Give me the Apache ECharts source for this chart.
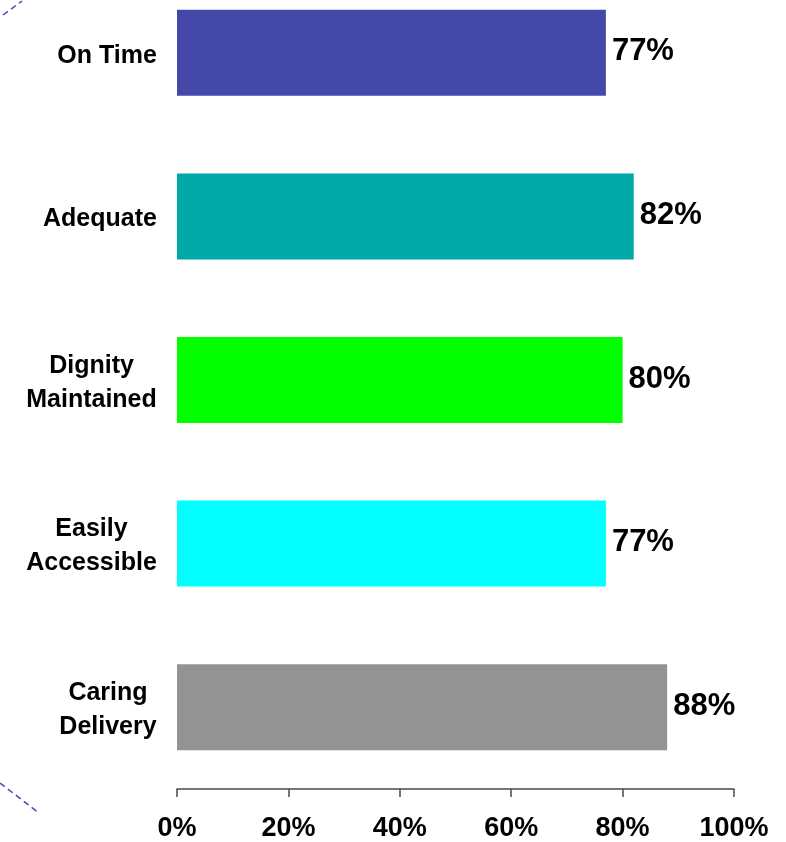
<!DOCTYPE html>
<html>
<head>
<meta charset="utf-8">
<script src="https://cdn.jsdelivr.net/npm/echarts@6/dist/echarts.min.js"></script>
<style>
html,body{margin:0;padding:0;background:#fff;overflow:hidden;}
#wrap{width:786px;height:842px;overflow:hidden;position:relative;}
#chart{position:absolute;left:0;top:-29px;width:786px;height:871px;}
</style>
</head>
<body>
<div id="wrap"><div id="chart"></div></div>
<script>
const categories = ['On Time', 'Adequate', 'Dignity\nMaintained', 'Easily\nAccessible', 'Caring\nDelivery'];
const values = [77, 82, 80, 77, 88];
const barColors = ['#4448A8', '#00A8A8', '#00FF00', '#00FFFF', '#939393'];
const xTicks = [0, 20, 40, 60, 80, 100];

const FONT = 'Liberation Sans, Arial, sans-serif';
const CAT_SIZE = 25;

// measure label blocks so each block is right-aligned with its lines centred
const ctx = document.createElement('canvas').getContext('2d');
ctx.font = 'bold ' + CAT_SIZE + 'px ' + FONT;
const rich = {};
categories.forEach((c, i) => {
  const w = Math.max(...c.split('\n').map(l => ctx.measureText(l).width));
  rich['c' + i] = {
    width: Math.ceil(w), align: 'center',
    fontFamily: FONT, fontWeight: 'bold', fontSize: CAT_SIZE, lineHeight: 34, color: '#000'
  };
});

const OFF = 29; // container is shifted up by this many px
const chart = echarts.init(document.getElementById('chart'));
chart.setOption({
  animation: false,
  backgroundColor: '#ffffff',
  grid: { left: 177, right: 52, top: 0, bottom: 53, containLabel: false },
  xAxis: {
    type: 'value',
    min: xTicks[0],
    max: xTicks[xTicks.length - 1],
    interval: 20,
    splitLine: { show: false },
    axisLine: { show: true, lineStyle: { color: '#4a4a4a', width: 1.5 } },
    axisTick: { show: true, length: 8, lineStyle: { color: '#4a4a4a', width: 1.5 } },
    axisLabel: {
      formatter: '{value}%',
      fontFamily: FONT,
      fontWeight: 'bold',
      fontSize: 27,
      color: '#000',
      margin: 26
    }
  },
  yAxis: {
    type: 'category',
    data: categories,
    inverse: true,
    axisLine: { show: false },
    axisTick: { show: false },
    axisLabel: {
      align: 'right',
      margin: 20,
      padding: [6, 0, 0, 0],
      formatter: function (val, idx) {
        return val.split('\n').map(l => '{c' + idx + '|' + l + '}').join('\n');
      },
      rich: rich
    }
  },
  series: [{
    type: 'bar',
    data: values.map((v, i) => ({ value: v, itemStyle: { color: barColors[i] } })),
    barWidth: 86,
    label: {
      show: true,
      position: 'right',
      distance: 6,
      offset: [0, -1],
      formatter: '{c}%',
      fontFamily: FONT,
      fontWeight: 'bold',
      fontSize: 31,
      color: '#000'
    }
  }],
  graphic: [
    { type: 'line', shape: { x1: 3, y1: 15 + OFF, x2: 22, y2: 1 + OFF }, style: { stroke: '#4448B0', lineWidth: 1.5, lineDash: [6, 4] } },
    { type: 'line', shape: { x1: 0, y1: 783 + OFF, x2: 39, y2: 813 + OFF }, style: { stroke: '#4448B0', lineWidth: 1.5, lineDash: [6, 4] } }
  ]
});
</script>
</body>
</html>
